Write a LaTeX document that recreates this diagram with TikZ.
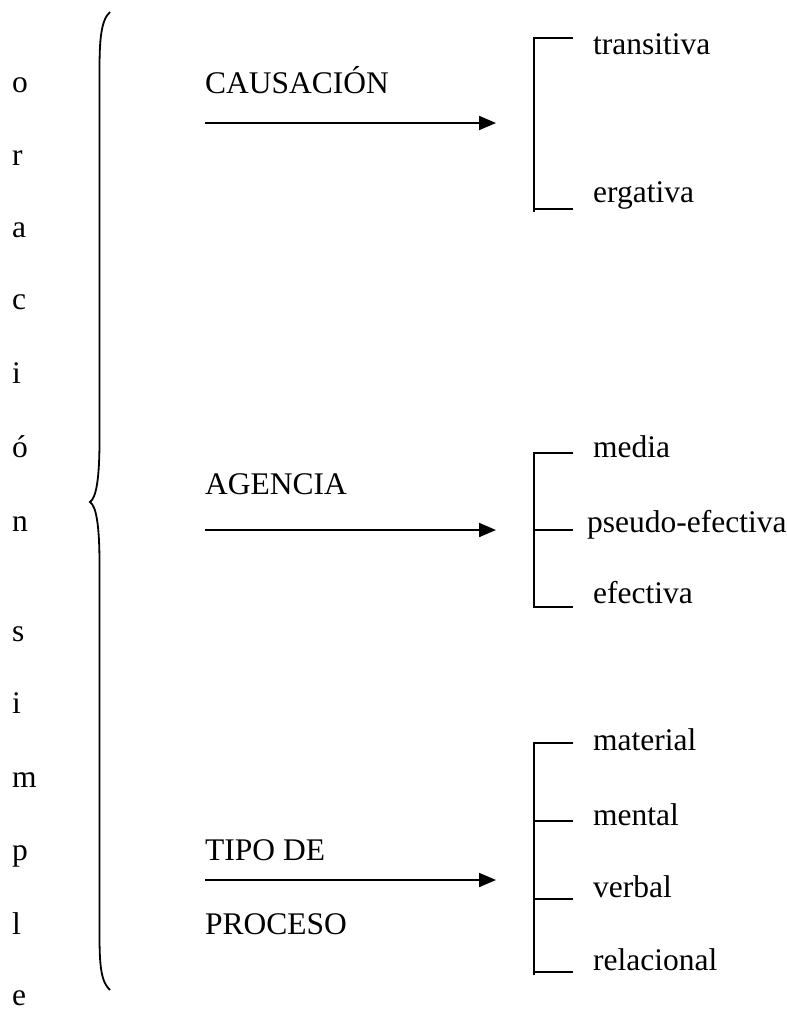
\documentclass[tikz,border=0pt]{standalone}
\usepackage{fontspec}
\setmainfont{Liberation Serif}
\usetikzlibrary{arrows.meta}
\begin{document}
\begin{tikzpicture}[x=1pt,y=-1pt,
  lbl/.style={inner sep=0pt,anchor=base west,font=\fontsize{31.5}{38}\selectfont},
  conn/.style={line width=2pt,-{Triangle[length=17pt,width=14pt]}},
  brk/.style={line width=2pt,line join=miter}]
\useasboundingbox (0,0) rectangle (787,1012);

% vertical word on the left
\foreach \ch/\yy [count=\k] in {o/92,r/165,a/237,c/309,i/383,ó/457,n/531,s/641,i/713,m/787,p/860,l/934,e/1005}
  \node[lbl] (L\k) at (12,\yy) {\ch};

% curly brace
\draw[line width=1.8pt] (110,12) .. controls (101,20) and (99.5,40) .. (99.5,70)
  -- (99.5,440) .. controls (99.5,480) and (96,498) .. (90,502)
  .. controls (96,506) and (99.5,524) .. (99.5,564)
  -- (99.5,935) .. controls (99.5,965) and (101,982) .. (110,990);

% headings
\node[lbl] (caus) at (205,93) {CAUSACIÓN};
\node[lbl] (agen) at (205,494) {AGENCIA};
\node[lbl] (tipo) at (205,860) {TIPO DE};
\node[lbl] (proc) at (205,934) {PROCESO};

% arrows
\coordinate (a1s) at (205,123); \coordinate (a1e) at (496,123);
\coordinate (a2s) at (205,530); \coordinate (a2e) at (496,530);
\coordinate (a3s) at (205,880); \coordinate (a3e) at (496,880);
\draw[conn] (a1s) -- (a1e);
\draw[conn] (a2s) -- (a2e);
\draw[conn] (a3s) -- (a3e);

% leaf labels
\node[lbl] (trans) at (593,54) {transitiva};
\node[lbl] (erg) at (593,202) {ergativa};
\node[lbl] (media) at (593,457) {media};
\node[lbl] (pseudo) at (587,532) {pseudo-efectiva};
\node[lbl] (efec) at (593,603) {efectiva};
\node[lbl] (mat) at (593,750) {material};
\node[lbl] (ment) at (593,825) {mental};
\node[lbl] (verb) at (593,897) {verbal};
\node[lbl] (rel) at (593,970) {relacional};

% bracket 1
\coordinate (s1t) at (534,38); \coordinate (s1b) at (534,212);
\coordinate (t1a) at (573,38); \coordinate (t1b) at (573,209);
\draw[brk] (t1a) -- (s1t) -- (s1b);
\draw[brk] (534,209) -- (t1b);

% bracket 2
\coordinate (s2t) at (534,453); \coordinate (s2b) at (534,607);
\coordinate (t2a) at (573,453); \coordinate (t2b) at (573,530); \coordinate (t2c) at (573,607);
\draw[brk] (t2a) -- (s2t) -- (s2b) -- (t2c);
\draw[brk] (534,530) -- (t2b);

% bracket 3
\coordinate (s3t) at (534,743); \coordinate (s3b) at (534,975);
\coordinate (t3a) at (573,743); \coordinate (t3b) at (573,821);
\coordinate (t3c) at (573,899); \coordinate (t3d) at (573,972);
\draw[brk] (t3a) -- (s3t) -- (s3b);
\draw[brk] (534,821) -- (t3b);
\draw[brk] (534,899) -- (t3c);
\draw[brk] (534,972) -- (t3d);
\end{tikzpicture}
\end{document}
